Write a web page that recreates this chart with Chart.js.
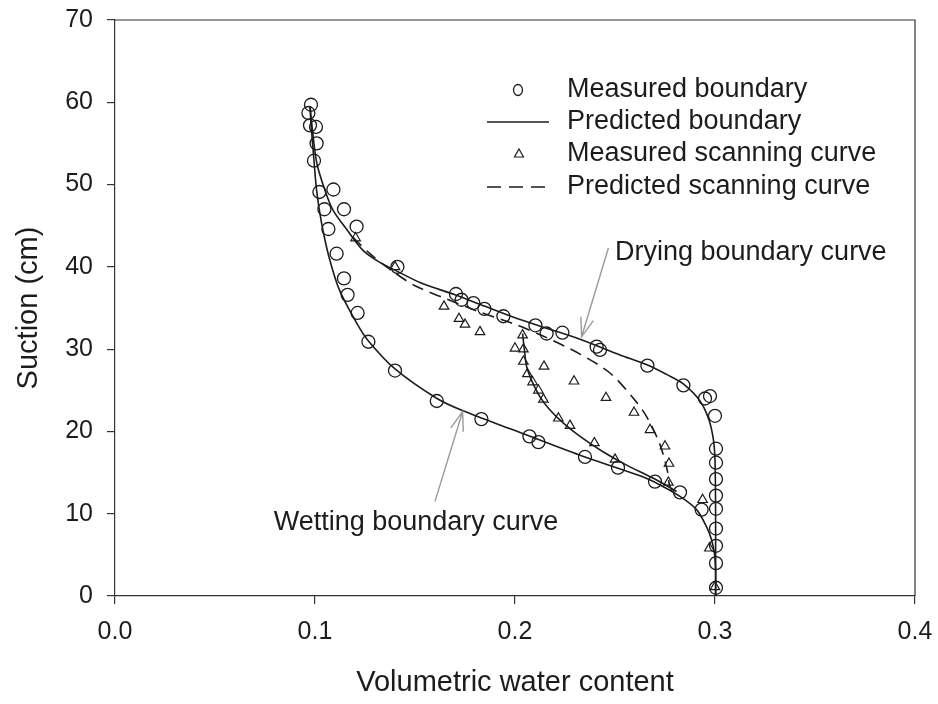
<!DOCTYPE html>
<html>
<head>
<meta charset="utf-8">
<script src="https://cdn.jsdelivr.net/npm/chart.js@4.4.1/dist/chart.umd.min.js"></script>
<style>
    html, body { margin: 0; padding: 0; background: #ffffff; }
</style>
</head>
<body>
<canvas id="courbe_retention" width="938" height="704"></canvas>
<script>

//------------------------------DONNEES------------------------------

// points mesurés sur les courbes limites (ronds)
const mesureBordTheta = [0.0980, 0.0967, 0.0975, 0.1005, 0.1008, 0.0995, 0.1022, 0.1092, 0.1047, 0.1145,
    0.1067, 0.1208, 0.1108, 0.1145, 0.1163, 0.1213, 0.1267,
    0.1400, 0.1609, 0.1832, 0.2072, 0.2117, 0.2350, 0.2515, 0.2700, 0.2825, 0.2933,
    0.1412, 0.1705, 0.1733, 0.1792, 0.1847, 0.1942, 0.2102, 0.2158, 0.2237, 0.2408, 0.2425,
    0.2662, 0.2842, 0.2950, 0.2975, 0.3000,
    0.3005, 0.3005, 0.3005, 0.3005, 0.3005, 0.3005, 0.3005, 0.3005, 0.3005]
const mesureBordSuction = [59.7, 58.7, 57.2, 57.0, 55.0, 52.9, 49.1, 49.4, 47.0, 47.0,
    44.6, 44.9, 41.6, 38.6, 36.6, 34.4, 30.9,
    27.4, 23.7, 21.5, 19.4, 18.7, 16.9, 15.6, 13.9, 12.6, 10.5,
    40.0, 36.7, 36.0, 35.6, 34.9, 34.0, 32.9, 31.9, 32.0, 30.3, 29.9,
    28.0, 25.6, 24.0, 24.3, 21.9,
    17.9, 16.2, 14.2, 12.2, 10.6, 8.2, 6.1, 4.0, 1.0]

// points mesurés de la courbe de balayage (triangles)
const mesureBalTheta = [0.1203, 0.1400, 0.1645, 0.1720, 0.1750, 0.1825, 0.2038, 0.2000, 0.2042, 0.2042,
    0.2145, 0.2062, 0.2088, 0.2295, 0.2117, 0.2142, 0.2455, 0.2217, 0.2275, 0.2595,
    0.2675, 0.2397, 0.2750, 0.2770, 0.2500, 0.2767, 0.2938, 0.2972, 0.3000]
const mesureBalSuction = [43.5, 40.0, 35.2, 33.7, 33.0, 32.1, 31.7, 30.1, 30.0, 28.5,
    27.9, 27.0, 26.0, 26.1, 25.0, 23.9, 24.1, 21.6, 20.7, 22.3,
    20.2, 18.6, 18.2, 16.1, 16.6, 13.8, 11.7, 5.8, 1.1]

// courbe limite de drainage prédite
const sechageTheta = [0.0975, 0.0990, 0.1010, 0.1050, 0.1090, 0.1160, 0.1240, 0.1320, 0.1400, 0.1525,
    0.1700, 0.1850, 0.1990, 0.2150, 0.2325, 0.2525, 0.2660, 0.2760, 0.2840, 0.2925,
    0.2970, 0.2992, 0.3000, 0.3003, 0.3003]
const sechageSuction = [59.5, 56.0, 52.5, 49.3, 46.9, 44.5, 42.0, 40.6, 39.6, 38.1,
    36.6, 35.2, 33.9, 32.6, 31.2, 29.3, 28.1, 26.9, 25.8, 23.7,
    21.4, 19.0, 16.5, 10.0, 0]

// courbe limite d'humidification prédite
const mouillageTheta = [0.0975, 0.0980, 0.0995, 0.1008, 0.1033, 0.1070, 0.1122, 0.1210, 0.1267, 0.1400,
    0.1610, 0.1740, 0.1990, 0.2325, 0.2625, 0.2725, 0.2825, 0.2908, 0.2958, 0.2983,
    0.2997, 0.3003, 0.3003]
const mouillageSuction = [59.5, 57.4, 52.9, 49.3, 45.3, 41.2, 37.2, 33.1, 31.0, 27.6,
    24.0, 22.5, 20.2, 17.1, 14.6, 13.5, 12.1, 10.5, 8.4, 6.8,
    5.2, 3.0, 0]

// courbe de balayage prédite (tirets)
const balayageTheta = [0.1190, 0.1275, 0.1375, 0.1500, 0.1658, 0.1825, 0.1992, 0.2158, 0.2325, 0.2475,
    0.2600, 0.2658, 0.2725, 0.2762, 0.2772, 0.2790]
const balayageSuction = [43.6, 41.6, 39.7, 37.7, 36.1, 34.5, 33.1, 31.4, 29.4, 27.1,
    23.8, 21.8, 18.4, 15.2, 13.5, 12.5]

// branche de balayage partant du sommet (trait plein)
const retourTheta = [0.2038, 0.2047, 0.2058, 0.2083, 0.2125, 0.2175, 0.2242, 0.2325, 0.2442, 0.2558, 0.2692, 0.2808]
const retourSuction = [31.9, 29.9, 27.9, 26.2, 24.2, 22.6, 21.0, 19.4, 17.5, 15.9, 14.3, 12.7]

const legendeTextes = ['Measured boundary', 'Predicted boundary', 'Measured scanning curve', 'Predicted scanning curve']

//----------------------------------------------------------------------------------------

const police = "'Liberation Sans', Arial, sans-serif"
const noir = '#1c1c1c'

function points(xs, ys) {
    return xs.map((x, i) => ({ x: x, y: ys[i] }))
}

// flèche grise (coordonnées en valeurs de données)
function fleche(ctx, sx, sy, x1, y1, x2, y2) {
    const ax = sx.getPixelForValue(x1), ay = sy.getPixelForValue(y1)
    const bx = sx.getPixelForValue(x2), by = sy.getPixelForValue(y2)
    const ang = Math.atan2(by - ay, bx - ax)
    ctx.beginPath()
    ctx.moveTo(ax, ay)
    ctx.lineTo(bx, by)
    ctx.moveTo(bx - 20 * Math.cos(ang - 0.33), by - 20 * Math.sin(ang - 0.33))
    ctx.lineTo(bx, by)
    ctx.lineTo(bx - 20 * Math.cos(ang + 0.33), by - 20 * Math.sin(ang + 0.33))
    ctx.stroke()
}

// on enlève la marge automatique ajoutée par Chart.js pour les étiquettes
function sansMarge(s) {
    s.paddingTop = 0
    s.paddingBottom = 0
    s.paddingLeft = 0
    s.paddingRight = 0
}

//-------------------------cadre, légende et annotations-------------------------
const decor = {
    id: 'decor',
    afterDraw(chart) {
        const ctx = chart.ctx
        const a = chart.chartArea
        const sx = chart.scales.x
        const sy = chart.scales.y

        ctx.save()

        // haut et droite du cadre
        ctx.strokeStyle = '#333'
        ctx.lineWidth = 1.2
        ctx.beginPath()
        ctx.moveTo(a.left, a.top)
        ctx.lineTo(a.right, a.top)
        ctx.lineTo(a.right, a.bottom)
        ctx.stroke()

        // flèches grises
        ctx.strokeStyle = '#9a9a9a'
        ctx.lineWidth = 1.4
        fleche(ctx, sx, sy, 0.2467, 42.3, 0.2333, 31.5)
        fleche(ctx, sx, sy, 0.1600, 11.5, 0.1738, 22.4)

        // textes d'annotation
        ctx.fillStyle = noir
        ctx.font = '27px ' + police
        ctx.textBaseline = 'middle'
        ctx.textAlign = 'left'
        ctx.fillText('Drying boundary curve', sx.getPixelForValue(0.25), sy.getPixelForValue(41.7))
        ctx.textAlign = 'center'
        ctx.fillText('Wetting boundary curve', sx.getPixelForValue(0.1505), sy.getPixelForValue(8.9))

        // légende
        const lignes = [90, 122, 154, 187]
        const xTexte = 567
        ctx.textAlign = 'left'
        legendeTextes.forEach((t, i) => {
            ctx.fillText(t, xTexte, lignes[i])
        })

        ctx.strokeStyle = noir
        ctx.lineWidth = 1.3
        // rond
        ctx.beginPath()
        ctx.ellipse(518, lignes[0], 4.5, 5.5, 0, 0, Math.PI * 2)
        ctx.stroke()
        // trait plein
        ctx.lineWidth = 1.6
        ctx.beginPath()
        ctx.moveTo(487, lignes[1])
        ctx.lineTo(549, lignes[1])
        ctx.stroke()
        // triangle
        ctx.lineWidth = 1.2
        ctx.beginPath()
        ctx.moveTo(519, lignes[2] - 5)
        ctx.lineTo(523.5, lignes[2] + 3)
        ctx.lineTo(514.5, lignes[2] + 3)
        ctx.closePath()
        ctx.stroke()
        // tirets
        ctx.lineWidth = 1.6
        ctx.setLineDash([14, 8])
        ctx.beginPath()
        ctx.moveTo(487, lignes[3])
        ctx.lineTo(553, lignes[3])
        ctx.stroke()

        ctx.restore()
    }
}

const ligne = {
    showLine: true,
    pointRadius: 0,
    borderColor: noir,
    borderWidth: 1.6,
    tension: 0.3,
    fill: false
}

new Chart(document.getElementById('courbe_retention').getContext('2d'), {
    type: 'scatter',
    plugins: [decor],
    data: {
        datasets: [
            {
                label: legendeTextes[0],
                data: points(mesureBordTheta, mesureBordSuction),
                pointStyle: 'circle',
                pointRadius: 6.5,
                borderColor: noir,
                borderWidth: 1.3,
                backgroundColor: 'rgba(0,0,0,0)'
            },
            {
                label: legendeTextes[2],
                data: points(mesureBalTheta, mesureBalSuction),
                pointStyle: 'triangle',
                pointRadius: 5.5,
                borderColor: noir,
                borderWidth: 1.2,
                backgroundColor: 'rgba(0,0,0,0)'
            },
            Object.assign({ label: 'Drying', data: points(sechageTheta, sechageSuction) }, ligne),
            Object.assign({ label: 'Wetting', data: points(mouillageTheta, mouillageSuction) }, ligne),
            Object.assign({ label: 'Scanning', data: points(retourTheta, retourSuction) }, ligne),
            Object.assign({ label: legendeTextes[3], data: points(balayageTheta, balayageSuction), borderDash: [12, 7] }, ligne)
        ]
    },
    options: {
        responsive: false,
        animation: false,
        layout: { padding: { top: 20, right: 23, left: 0, bottom: 0 } },
        plugins: {
            legend: { display: false },
            tooltip: { enabled: false }
        },
        scales: {
            x: {
                type: 'linear',
                min: 0,
                max: 0.4,
                afterFit: function (s) { s.height = 108; sansMarge(s) },
                border: { display: true, color: '#333', width: 1.2 },
                grid: { drawOnChartArea: false, drawTicks: true, tickLength: 8, color: '#333', lineWidth: 1.2 },
                ticks: {
                    stepSize: 0.1,
                    padding: 13,
                    color: noir,
                    font: { family: police, size: 25 },
                    callback: v => v.toFixed(1)
                },
                title: {
                    display: true,
                    text: 'Volumetric water content',
                    color: noir,
                    font: { family: police, size: 29 },
                    padding: { top: 0, bottom: 4 }
                }
            },
            y: {
                type: 'linear',
                min: 0,
                max: 70,
                afterFit: function (s) { s.width = 115; sansMarge(s) },
                border: { display: true, color: '#333', width: 1.2 },
                grid: { drawOnChartArea: false, drawTicks: true, tickLength: 8, color: '#333', lineWidth: 1.2 },
                ticks: {
                    stepSize: 10,
                    padding: 14,
                    color: noir,
                    font: { family: police, size: 25 }
                },
                title: {
                    display: true,
                    text: 'Suction (cm)',
                    color: noir,
                    font: { family: police, size: 29 },
                    padding: { top: 12, bottom: 0 }
                }
            }
        }
    }
});

</script>
</body>
</html>
